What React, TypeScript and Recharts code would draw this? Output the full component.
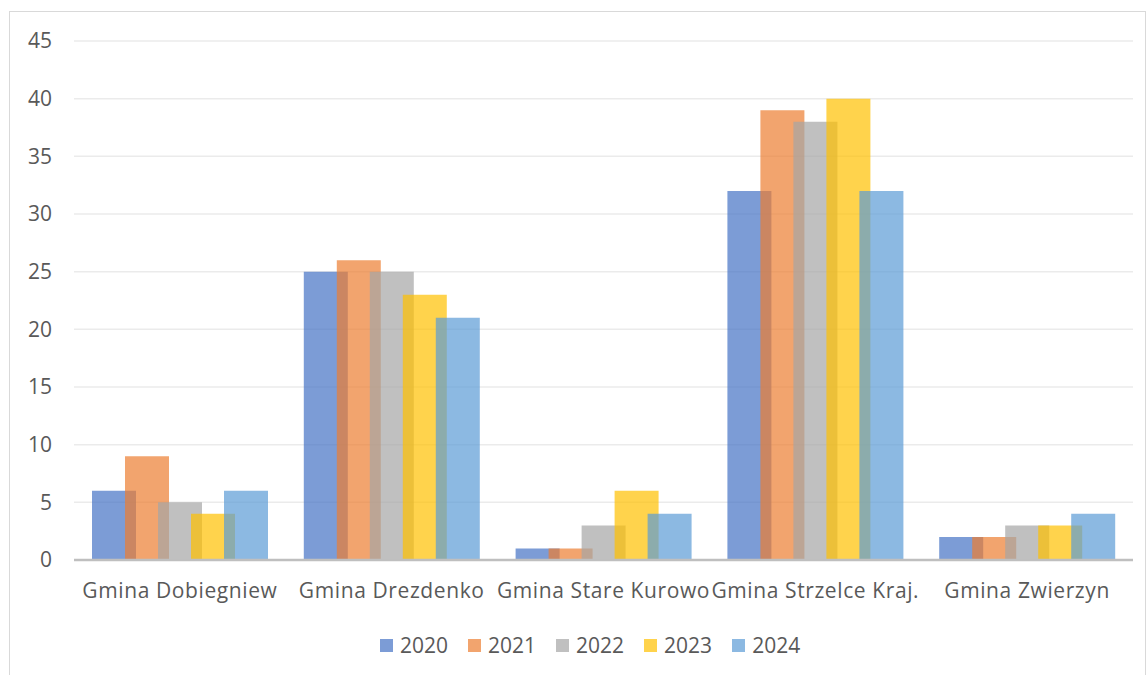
import React from "react";
import {
  BarChart,
  Bar,
  XAxis,
  YAxis,
  CartesianGrid,
} from "recharts";

const categories = [
  "Gmina Dobiegniew",
  "Gmina Drezdenko",
  "Gmina Stare Kurowo",
  "Gmina Strzelce Kraj.",
  "Gmina Zwierzyn",
];
const years = ["2020", "2021", "2022", "2023", "2024"];
const v2020 = [6, 25, 1, 32, 2];
const v2021 = [9, 26, 1, 39, 2];
const v2022 = [5, 25, 3, 38, 3];
const v2023 = [4, 23, 6, 40, 3];
const v2024 = [6, 21, 4, 32, 4];
const yTicks = [0, 5, 10, 15, 20, 25, 30, 35, 40, 45];

const colors = ["#4472C4", "#ED7D31", "#A5A5A5", "#FFC000", "#5B9BD5"];
const series = [v2020, v2021, v2022, v2023, v2024];

const data = categories.map((name, i) => {
  const row: Record<string, string | number> = { name };
  years.forEach((y, s) => {
    row[y] = series[s][i];
  });
  return row;
});

const font = "'Open Sans', 'Noto Sans', sans-serif";
const textColor = "#595959";
const fs = 21;

function LegendBox() {
  return (
    <div
      style={{
        position: "absolute",
        left: 380,
        top: 631,
        height: 28,
        display: "flex",
        alignItems: "center",
        gap: 20,
        fontFamily: font,
        fontSize: fs,
        color: textColor,
      }}
    >
      {years.map((y, i) => (
        <div key={y} style={{ display: "flex", alignItems: "center" }}>
          <span
            style={{
              width: 13,
              height: 13,
              background: colors[i],
              opacity: 0.7,
              marginRight: 7,
              display: "inline-block",
            }}
          />
          {y}
        </div>
      ))}
    </div>
  );
}

export default function App() {
  return (
    <div style={{ position: "absolute", left: 0, top: 0, width: 1146, height: 675, overflow: "hidden", background: "#fff" }}>
      <div
        style={{
          position: "absolute",
          left: 9,
          top: 11,
          width: 1135,
          height: 700,
          border: "1px solid #D9D9D9",
        }}
      />
      <div style={{ position: "absolute", left: 0, top: 0 }}>
        <BarChart
          width={1146}
          height={675}
          data={data}
          margin={{ top: 41, right: 13, bottom: 85, left: 0 }}
          barGap={-11}
          barSize={44}
        >
          <CartesianGrid vertical={false} stroke="#EBEBEB" strokeWidth={1.5} />
          <XAxis
            dataKey="name"
            interval={0}
            height={30}
            tickLine={false}
            tickSize={0}
            tickMargin={23}
            axisLine={{ stroke: "#BFBFBF", strokeWidth: 2.5 }}
            tick={{ fontFamily: font, fontSize: fs, fill: textColor, letterSpacing: 0.6 }}
          />
          <YAxis
            width={74}
            domain={[0, 45]}
            ticks={yTicks}
            interval={0}
            axisLine={false}
            tickLine={false}
            tickSize={0}
            tickMargin={22}
            tick={{ fontFamily: font, fontSize: fs, fill: textColor }}
          />
          {years.map((y, i) => (
            <Bar
              key={y}
              dataKey={y}
              fill={colors[i]}
              fillOpacity={0.7}
              isAnimationActive={false}
            />
          ))}
        </BarChart>
      </div>
      <LegendBox />
    </div>
  );
}
